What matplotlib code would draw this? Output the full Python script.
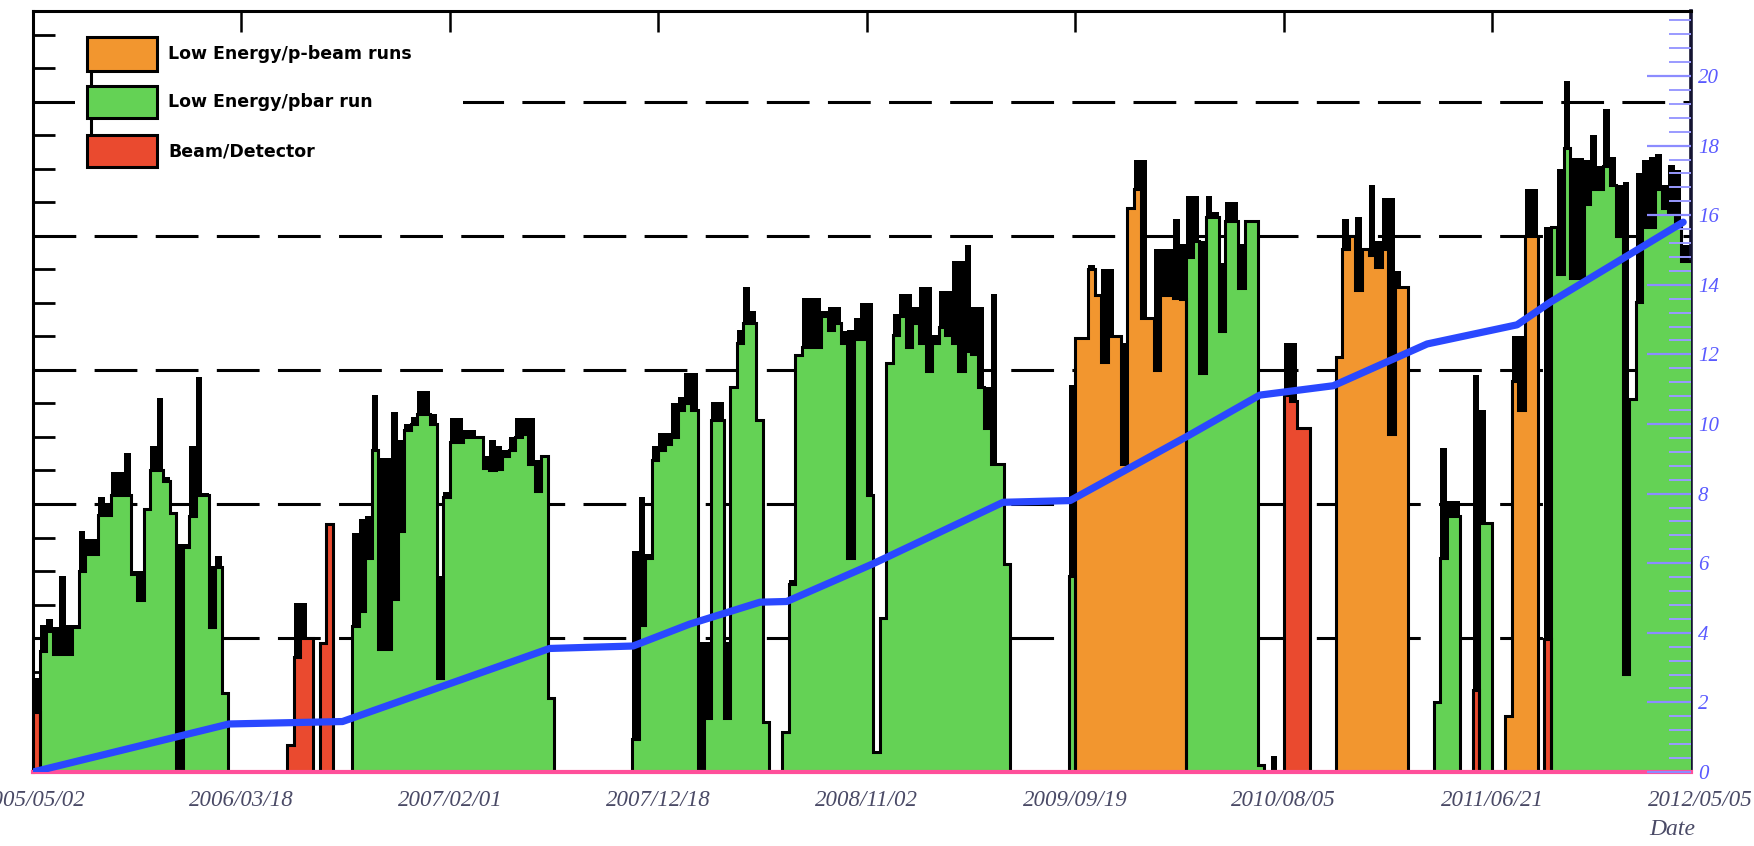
import numpy as np
import matplotlib
matplotlib.use("Agg")
import matplotlib.pyplot as plt
import matplotlib.transforms as mtransforms
from matplotlib.patches import Rectangle
from matplotlib.lines import Line2D
from matplotlib.ticker import MultipleLocator

# ---------------- data (10-day bins starting 2005/05/02) ----------------
bin_days = 10

total = [
    70, 110, 114, 108, 146, 110, 110, 180, 174, 174,
    205, 200, 224, 224, 238, 150, 150, 196, 243, 279,
    220, 193, 170, 170, 243, 295, 208, 154, 161, 59,
    0, 0, 0, 0, 0, 0, 0, 0, 0, 20,
    126, 126, 100, 0, 96, 185, 0, 0, 0, 178,
    189, 191, 281, 234, 234, 269, 248, 260, 265, 284,
    284, 267, 146, 209, 264, 264, 255, 255, 250, 236,
    248, 243, 240, 250, 264, 264, 264, 233, 236, 55,
    0, 0, 0, 0, 0, 0, 0, 0, 0, 0,
    0, 0, 165, 205, 163, 243, 253, 253, 275, 280,
    298, 298, 97, 97, 276, 276, 97, 288, 330, 362,
    344, 263, 37, 0, 0, 30, 143, 311, 354, 354,
    354, 344, 347, 347, 329, 330, 339, 350, 350, 15,
    115, 305, 342, 357, 357, 347, 362, 362, 326, 359,
    359, 381, 381, 393, 347, 347, 287, 357, 230, 155,
    0, 0, 0, 0, 0, 0, 0, 0, 0, 289,
    324, 324, 378, 356, 375, 375, 325, 320, 421, 457,
    457, 339, 390, 390, 390, 413, 394, 430, 430, 396,
    430, 418, 380, 425, 425, 394, 411, 411, 5, 0,
    12, 0, 320, 320, 257, 257, 0, 0, 0, 0,
    310, 413, 400, 414, 390, 438, 396, 428, 428, 374,
    362, 0, 0, 0, 0, 52, 242, 202, 202, 0,
    0, 296, 270, 186, 0, 0, 42, 325, 325, 435,
    435, 0, 407, 407, 450, 516, 458, 458, 457, 475,
    452, 495, 459, 438, 440, 278, 447, 457, 459, 461,
    438, 453, 449, 393, 393,
]

recorded = [
    45, 90, 105, 88, 88, 88, 108, 150, 163, 163,
    192, 192, 207, 207, 207, 148, 128, 196, 225, 225,
    217, 193, 0, 168, 191, 207, 207, 108, 153, 59,
    0, 0, 0, 0, 0, 0, 0, 0, 0, 20,
    86, 100, 100, 0, 96, 185, 0, 0, 0, 109,
    120, 160, 240, 92, 92, 129, 180, 255, 260, 267,
    267, 260, 70, 205, 246, 246, 250, 250, 250, 227,
    225, 226, 236, 240, 250, 252, 230, 210, 236, 55,
    0, 0, 0, 0, 0, 0, 0, 0, 0, 0,
    0, 0, 25, 110, 160, 233, 240, 245, 250, 270,
    275, 270, 0, 40, 263, 263, 40, 287, 320, 335,
    335, 263, 37, 0, 0, 30, 140, 311, 317, 317,
    317, 340, 330, 335, 320, 160, 323, 323, 207, 15,
    115, 305, 326, 340, 317, 335, 320, 299, 320, 332,
    326, 320, 299, 314, 312, 287, 257, 230, 230, 155,
    0, 0, 0, 0, 0, 0, 0, 0, 0, 146,
    324, 324, 375, 356, 306, 325, 325, 230, 421, 435,
    339, 339, 300, 356, 356, 354, 353, 384, 396, 298,
    414, 414, 329, 411, 411, 361, 411, 411, 5, 0,
    0, 0, 281, 277, 257, 257, 0, 0, 0, 0,
    310, 390, 400, 360, 390, 386, 377, 390, 252, 362,
    362, 0, 0, 0, 0, 52, 160, 191, 191, 0,
    0, 61, 186, 186, 0, 0, 42, 292, 270, 400,
    400, 0, 99, 407, 372, 466, 369, 369, 424, 435,
    435, 452, 438, 400, 73, 278, 351, 407, 407, 435,
    421, 417, 407, 381, 381,
]

# category of each bin: O = orange, G = green, R = red, . = none
kind = ("R" "GGGGGGGGGGGGGGGGGGGGGGGGGGGGG" "........." "RRRR" "." "RR" "..."
        "GGGGGGGGGGGGGGGGGGGGGGGGGGGGGGG" "............" "GGGGGGGGGGGGGGGGGGGGG"
        ".." "GGGGGGGGGGGGGGGGGGGGGGGGGGGGGGGGGGG" "........." "G"
        "OOOOOOOOOOOOOOOOO" "GGGGGGGGGGGG" "." "G" "." "RRRR" "...."
        "OOOOOOOOOOO" "...." "GGGG" ".." "R" "GG" ".." "OOOOO" "." "R"
        "GGGGGGGGGGGGGGGGGGGGGG")

# cumulative curve (right axis), read at knots: day offset, value
cum_days = [0, 301, 475, 793, 921, 1008, 1116, 1157, 1289, 1489, 1592,
            1771, 1883, 1996, 2044, 2140, 2278, 2329, 2533]
cum_vals = [0, 1.38, 1.45, 3.55, 3.62, 4.25, 4.88, 4.9, 5.98, 7.75, 7.8,
            9.64, 10.83, 11.1, 11.5, 12.3, 12.85, 13.5, 15.8]

date_labels = ["2005/05/02", "2006/03/18", "2007/02/01", "2007/12/18", "2008/11/02",
               "2009/09/19", "2010/08/05", "2011/06/21", "2012/05/05"]
date_days = [0, 320, 640, 960, 1280, 1600, 1920, 2240, 2560]

right_ticks = [0, 2, 4, 6, 8, 10, 12, 14, 16, 18, 20]
right_labels = ["0", "2", "4", "6", "8", "10", "12", "14", "16", "18", "20"]

legend_labels = ["Low Energy/p-beam runs", "Low Energy/pbar run", "Beam/Detector"]

# ---------------- styling ----------------
C_ORANGE = "#f2962f"
C_GREEN = "#64d255"
C_RED = "#ea4a2f"
C_BLUE = "#2a48ff"
C_PINK = "#ff4f9a"

W, H = 1754, 846
fig = plt.figure(figsize=(W / 100, H / 100), dpi=100)
fig.patch.set_facecolor("white")

x0, x1, ytop, ybot = 33, 1691, 11, 772
ax = fig.add_axes([x0 / W, 1 - ybot / H, (x1 - x0) / W, (ybot - ytop) / H])

n = len(total)
edges = np.arange(n + 1) * bin_days
tot = np.array(total, float)
rec = np.array(recorded, float)
kinds = np.array(list(kind))

# dashed reference lines (left-axis major ticks)
for yv in [100, 200, 300, 400, 500]:
    ax.axhline(yv, color="black", lw=2.2, ls=(0, (14, 6)), zorder=0.5)

ax.stairs(tot, edges, fill=True, color="black", zorder=2)
for k, col in [("O", C_ORANGE), ("G", C_GREEN), ("R", C_RED)]:
    vals = np.where(kinds == k, rec, 0.0)
    ax.stairs(vals, edges, fill=True, color=col, zorder=3, baseline=0)
    ax.stairs(vals, edges, color="black", lw=2.2, zorder=4, baseline=0)

ax.axhline(0, color=C_PINK, lw=3, zorder=6, clip_on=False)

ax.set_xlim(0, 2545)
ax.set_ylim(0, (ybot - ytop) / 1.34)

for s in ["left", "top"]:
    ax.spines[s].set_linewidth(2.2)
    ax.spines[s].set_color("black")
ax.spines["right"].set_linewidth(2.6)
ax.spines["right"].set_color("#141432")
ax.spines["bottom"].set_visible(False)

ax.yaxis.set_major_locator(MultipleLocator(100))
ax.yaxis.set_minor_locator(MultipleLocator(25))
ax.tick_params(axis="y", which="major", direction="in", length=29, width=2.0,
               left=True, right=False, labelleft=False)
ax.tick_params(axis="y", which="minor", direction="in", length=16, width=2.0,
               left=True, right=False)
ax.set_xticks(date_days[:-1])
ax.tick_params(axis="x", which="major", direction="in", length=15, width=1.8,
               top=True, bottom=False, labelbottom=False, labeltop=False)

# date labels under the axis
trans = mtransforms.blended_transform_factory(ax.transData, ax.transAxes)
for d, lab in zip(date_days, date_labels):
    ax.text(d, -0.038, lab, transform=trans, ha="center", va="center",
            fontsize=16.5, fontfamily="Liberation Serif", fontstyle="italic",
            color="#4a4a66", clip_on=False)
fig.text(1672 / W, 1 - 829 / H, "Date", ha="center", va="center", fontsize=17,
         fontfamily="Liberation Serif", fontstyle="italic", color="#4a4a66")

# legend background (covers dashed line) and entries
ax.add_patch(Rectangle((75 / W, 1 - 175 / H), (463 - 75) / W, (175 - 18) / H,
                       transform=fig.transFigure, facecolor="white",
                       edgecolor="none", zorder=1))
box_y = [(37, 71), (86, 118), (135, 167)]
for (ya, yb), col, lab in zip(box_y, [C_ORANGE, C_GREEN, C_RED], legend_labels):
    fig.patches.append(Rectangle((87 / W, 1 - yb / H), 70 / W, (yb - ya) / H,
                                 transform=fig.transFigure, facecolor=col,
                                 edgecolor="black", lw=2.2, zorder=5))
    fig.text(168 / W, 1 - (ya + yb) / 2 / H, lab, ha="left", va="center",
             fontsize=12.5, fontweight="bold", color="black")
for ya, yb in [(71, 86), (118, 135)]:
    fig.add_artist(Line2D([91 / W, 91 / W], [1 - ya / H, 1 - yb / H],
                          transform=fig.transFigure, color="black", lw=2.2, zorder=5))

# right axis with cumulative curve
ax2 = ax.twinx()
ax2.set_ylim(0, (ybot - ytop) / 34.8)
ax2.plot(cum_days, cum_vals, color=C_BLUE, lw=5.2, solid_capstyle="round",
         solid_joinstyle="round", zorder=5)
for s in ax2.spines.values():
    s.set_visible(False)
ax2.set_yticks(right_ticks)
ax2.set_yticklabels(right_labels, fontfamily="Liberation Serif", fontstyle="italic",
                    fontsize=15)
ax2.yaxis.set_minor_locator(MultipleLocator(0.4))
ax2.tick_params(axis="y", which="major", direction="in", length=32, width=1.6,
                color="#8c8cff", labelcolor="#5a5aff", pad=5)
ax2.tick_params(axis="y", which="minor", direction="in", length=16, width=1.4,
                color="#9a9aff")
ax2.set_xlim(0, 2545)

fig.savefig("out.png", dpi=100, facecolor="white")
